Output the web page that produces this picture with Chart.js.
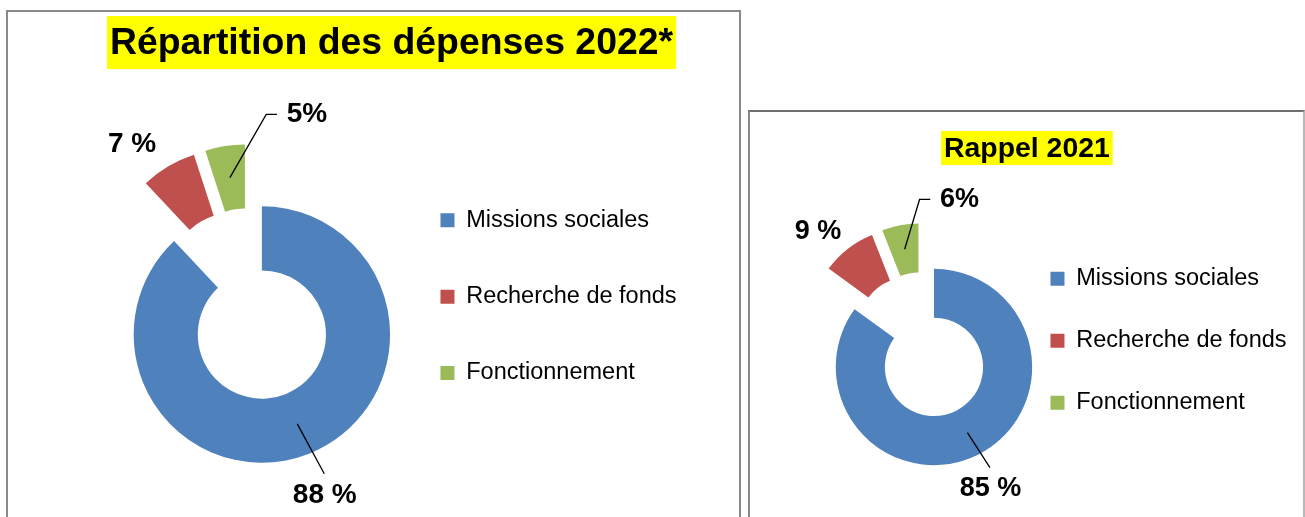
<!DOCTYPE html>
<html lang="fr">
<head>
  <meta charset="UTF-8">
  <title>Répartition des dépenses</title>
  <script src="https://cdn.jsdelivr.net/npm/chart.js"></script>
  <style>
    html, body {
      margin: 0;
      padding: 0;
      background: #fff;
      overflow: hidden;
    }
    .box {
      position: absolute;
      background: #fff;
      border: 2px solid #8a8a8a;
    }
    #box2022 {
      left: 6px;
      top: 10px;
      width: 731px;
      height: 520px;
    }
    #box2021 {
      left: 748px;
      top: 110px;
      width: 553px;
      height: 420px;
      border-top-color: #6f6f6f;
      border-right-color: #b8b8b8;
    }
    canvas {
      position: absolute;
      left: 0;
      top: 0;
    }
  </style>
</head>
<body>
  <div class="box" id="box2022">
    <canvas id="chart2022" width="731" height="505" style="width:731px;height:505px"></canvas>
  </div>
  <div class="box" id="box2021">
    <canvas id="chart2021" width="553" height="405" style="width:553px;height:405px"></canvas>
  </div>

  <script>
    const categories = ["Missions sociales", "Recherche de fonds", "Fonctionnement"];
    const values2022 = [88, 7, 5];
    const values2021 = [85, 9, 6];
    const valueLabels2022 = ["88 %", "7 %", "5%"];
    const valueLabels2021 = ["85 %", "9 %", "6%"];
    const colors = ["#4F81BD", "#C0504D", "#9BBB59"];

    const FONT = '"Liberation Sans", Arial, sans-serif';

    // pulls every slice out along its bisector (Excel "explosion")
    const explodePlugin = {
      id: "explode",
      beforeDatasetsDraw(chart, args, opts) {
        const ctx = chart.ctx;
        chart.getSortedVisibleDatasetMetas().forEach(meta => {
          meta.data.forEach(arc => {
            const mid = (arc.startAngle + arc.endAngle) / 2;
            ctx.save();
            ctx.translate(Math.cos(mid) * opts.distance, Math.sin(mid) * opts.distance);
            arc.draw(ctx);
            ctx.restore();
          });
        });
        return false;
      }
    };

    // title text on a yellow highlight, placed freely above the plot
    const markedTitlePlugin = {
      id: "markedTitle",
      beforeDraw(chart, args, opts) {
        const ctx = chart.ctx;
        ctx.save();
        ctx.font = "bold " + opts.size + "px " + FONT;
        const w = ctx.measureText(opts.text).width;
        ctx.fillStyle = "#FFFF00";
        ctx.fillRect(opts.x - w / 2 - opts.padX, opts.y - opts.above, w + 2 * opts.padX, opts.above + opts.below);
        ctx.fillStyle = "#000";
        ctx.textAlign = "center";
        ctx.textBaseline = "middle";
        ctx.fillText(opts.text, opts.x, opts.y);
        ctx.restore();
      }
    };

    // percentage labels with leader lines
    const calloutPlugin = {
      id: "callout",
      afterDraw(chart, args, opts) {
        const ctx = chart.ctx;
        const meta = chart.getDatasetMeta(0);
        ctx.save();
        ctx.font = opts.font;
        ctx.fillStyle = "#000";
        ctx.strokeStyle = "#000";
        ctx.lineWidth = 1.3;
        ctx.textAlign = "center";
        ctx.textBaseline = "middle";
        meta.data.forEach((arc, i) => {
          const place = opts.place[i];
          const text = opts.labels[i];
          const mid = (arc.startAngle + arc.endAngle) / 2;
          const cx = arc.x + Math.cos(mid) * opts.explode;
          const cy = arc.y + Math.sin(mid) * opts.explode;
          const ring = (arc.innerRadius + arc.outerRadius) / 2;
          const ax = cx + Math.cos(mid) * ring;
          const ay = cy + Math.sin(mid) * ring;
          const a = mid + place.turn * Math.PI / 180;
          const lx = cx + Math.cos(a) * place.dist;
          const ly = cy + Math.sin(a) * place.dist;
          const w = ctx.measureText(text).width;

          if (place.leader === "straight") {
            ctx.beginPath();
            ctx.moveTo(ax, ay);
            ctx.lineTo(lx - 0.5, ly - opts.gap);
            ctx.stroke();
          } else if (place.leader === "elbow") {
            const left = lx - w / 2;
            ctx.beginPath();
            ctx.moveTo(ax, ay);
            ctx.lineTo(left - opts.elbow, ly);
            ctx.lineTo(left - opts.stub, ly);
            ctx.stroke();
          }
          ctx.fillText(text, lx, ly);
        });
        ctx.restore();
      }
    };

    function makeChart(id, title, values, labels, cfg) {
      const ctx = document.getElementById(id).getContext("2d");
      return new Chart(ctx, {
        type: "doughnut",
        data: {
          labels: categories,
          datasets: [{
            data: values,
            backgroundColor: colors,
            borderWidth: 0,
            radius: cfg.radius,
            cutout: "50%"
          }]
        },
        options: {
          responsive: false,
          animation: false,
          events: [],
          layout: { padding: cfg.padding },
          plugins: {
            title: { display: false },
            legend: {
              position: "right",
              align: "start",
              fullSize: false,
              maxWidth: 400,
              labels: {
                boxWidth: 14,
                boxHeight: 14,
                padding: cfg.legendPadding,
                color: "#000",
                font: { family: FONT, size: 23.5 }
              }
            },
            tooltip: { enabled: false },
            explode: { distance: cfg.explode },
            markedTitle: Object.assign({ text: title, padX: 3 }, cfg.title),
            callout: {
              labels: labels,
              font: "bold " + cfg.labelSize + "px " + FONT,
              explode: cfg.explode,
              place: cfg.place,
              gap: 21.3,
              elbow: 20.5,
              stub: 9.8
            }
          }
        },
        plugins: [explodePlugin, markedTitlePlugin, calloutPlugin]
      });
    }

    window.onload = function () {
      makeChart("chart2022", "Répartition des dépenses 2022*", values2022, valueLabels2022, {
        radius: 128.2,
        explode: 32.3,
        padding: { left: 104.3, right: 52.45, top: 143.8, bottom: 63.8 },
        title: { size: 37.4, x: 383.5, y: 31.74, above: 27.7, below: 25.3 },
        legendPadding: 52.8,
        labelSize: 28,
        place: [
          { dist: 172.4, turn: 0.2, leader: "straight" },
          { dist: 167, turn: -6.8, leader: "none" },
          { dist: 170, turn: 30.4, leader: "elbow" }
        ]
      });

      makeChart("chart2021", "Rappel 2021", values2021, valueLabels2021, {
        radius: 98.2,
        explode: 24.2,
        padding: { left: 84, right: 6.45, top: 116.45, bottom: 54.65 },
        title: { size: 28.4, x: 276.9, y: 37.6, above: 18.6, below: 15.4 },
        legendPadding: 38.5,
        labelSize: 27,
        place: [
          { dist: 134.4, turn: 2.15, leader: "straight" },
          { dist: 130.7, turn: -5.8, leader: "none" },
          { dist: 128.9, turn: 29.4, leader: "elbow" }
        ]
      });
    };
  </script>
</body>
</html>
